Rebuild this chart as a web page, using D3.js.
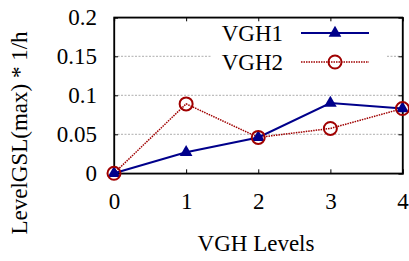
<!DOCTYPE html>
<html><head><meta charset="utf-8">
<script src="https://cdn.jsdelivr.net/npm/d3@7"></script>
<style>
@font-face{font-family:"ChartSerif";src:local("Liberation Serif"),local("LiberationSerif"),local("LiberationSerif-Regular");}
body{margin:0;background:#fff}svg{display:block}
svg, svg text{font-family:"Liberation Serif",ChartSerif,serif;}
</style>
</head><body>
<svg id="c" width="409" height="261" font-family="Liberation Serif"></svg>
<script>
const levels = [0, 1, 2, 3, 4];
const vgh1 = [0, 0.027, 0.046, 0.090, 0.083];
const vgh2 = [0, 0.089, 0.046, 0.0575, 0.083];
const yTicks = [0, 0.05, 0.1, 0.15, 0.2];
const yTickLabels = ["0", "0.05", "0.1", "0.15", "0.2"];
const seriesNames = ["VGH1", "VGH2"];

const FF = "Liberation Serif";
const svg = d3.select("#c");
const L = 114, R = 402.5, T = 17.3, B = 173.3;
const x = d3.scaleLinear().domain([0, 4]).range([L, R]);
const y = d3.scaleLinear().domain([0, 0.2]).range([B, T]);

svg.append("g").selectAll("line").data(yTicks.filter(v => v > 0 && v < 0.2)).join("line")
  .attr("x1", L).attr("x2", R).attr("y1", d => y(d)).attr("y2", d => y(d))
  .attr("stroke", "#999").attr("stroke-width", 0.8).attr("stroke-dasharray", "2,1.5");

svg.append("rect").attr("x", 212).attr("y", 20).attr("width", 174).attr("height", 55).attr("fill", "#fff");

const ax = svg.append("g").attr("transform", `translate(0,${B})`)
  .call(d3.axisBottom(x).tickValues(levels).tickSize(-4).tickPadding(19).tickFormat(d3.format("d")));
const ay = svg.append("g").attr("transform", `translate(${L},0)`)
  .call(d3.axisLeft(y).tickValues(yTicks).tickSize(-4).tickPadding(17).tickFormat((d, i) => yTickLabels[i]));
svg.append("g").attr("transform", `translate(0,${T})`)
  .call(d3.axisTop(x).tickValues(levels).tickSize(-4).tickFormat(""));
svg.append("g").attr("transform", `translate(${R},0)`)
  .call(d3.axisRight(y).tickValues(yTicks).tickSize(-4).tickFormat(""));
svg.selectAll("g").attr("font-family", FF).attr("font-size", 23);
svg.selectAll(".domain").attr("stroke", "#000").attr("stroke-width", 1.3);
svg.selectAll(".tick line").attr("stroke", "#000");
svg.selectAll(".tick text").attr("font-family", FF).style("font-family", FF).style("font-size", "23px").attr("fill", "#000");
ax.selectAll(".tick text").attr("dy", "0.71em");
svg.append("rect").attr("x", L).attr("y", T).attr("width", R - L).attr("height", B - T)
  .attr("fill", "none").attr("stroke", "#000").attr("stroke-width", 1.3);

svg.append("text").attr("x", 256).attr("y", 251).attr("text-anchor", "middle")
  .attr("font-family", FF).style("font-family", FF).style("font-size", "23px").text("VGH Levels");
svg.append("text").attr("transform", "translate(27,133) rotate(-90)").attr("text-anchor", "middle")
  .attr("font-family", FF).style("font-family", FF).style("font-size", "23px").text("LevelGSL(max) * 1/h");

const line = d3.line().x((d, i) => x(levels[i])).y(d => y(d));
const c1 = "#00008b", c2 = "#a00000";

svg.append("path").datum(vgh2).attr("d", line).attr("fill", "none")
  .attr("stroke", c2).attr("stroke-width", 1.5).attr("stroke-dasharray", "1.5,1");
svg.append("path").datum(vgh1).attr("d", line).attr("fill", "none")
  .attr("stroke", c1).attr("stroke-width", 2);

const tri = d3.symbol().type(d3.symbolTriangle).size(70);
svg.append("g").selectAll("path").data(vgh1).join("path")
  .attr("transform", (d, i) => `translate(${x(levels[i])},${y(d)})`)
  .attr("d", tri).attr("fill", c1);
svg.append("g").selectAll("circle").data(vgh2).join("circle")
  .attr("cx", (d, i) => x(levels[i])).attr("cy", d => y(d)).attr("r", 6.5)
  .attr("fill", "none").attr("stroke", c2).attr("stroke-width", 2);

const lg = svg.append("g");
[0, 1].forEach(i => {
  const yy = 33 + i * 29;
  lg.append("text").attr("x", 283).attr("y", yy).attr("dy", "0.35em").attr("text-anchor", "end")
    .attr("font-family", FF).style("font-family", FF).style("font-size", "23px").text(seriesNames[i]);
  lg.append("line").attr("x1", 301).attr("x2", 369).attr("y1", yy).attr("y2", yy)
    .attr("stroke", i ? c2 : c1).attr("stroke-width", i ? 1.5 : 2)
    .attr("stroke-dasharray", i ? "1.5,1" : null);
  if (i === 0) lg.append("path").attr("transform", `translate(335,${yy})`).attr("d", tri).attr("fill", c1);
  else lg.append("circle").attr("cx", 335).attr("cy", yy).attr("r", 6.5).attr("fill", "none")
    .attr("stroke", c2).attr("stroke-width", 2);
});
</script>
</body></html>
